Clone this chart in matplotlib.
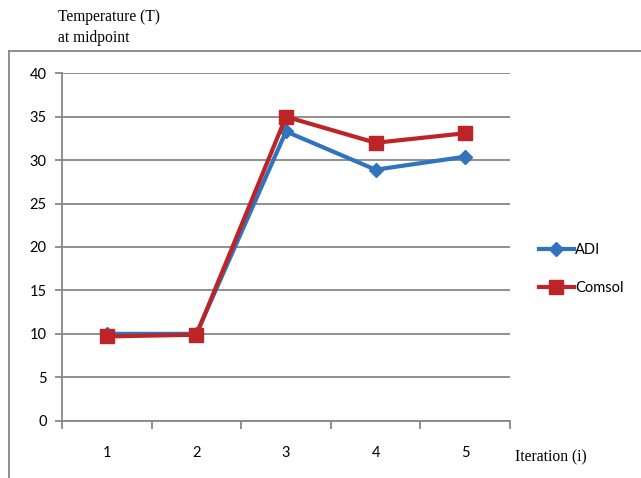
import matplotlib.pyplot as plt
from matplotlib.lines import Line2D

iterations = [1, 2, 3, 4, 5]
adi = [10.0, 10.0, 33.3, 28.9, 30.4]
comsol = [9.7, 9.9, 35.0, 32.0, 33.1]
yticks = [0, 5, 10, 15, 20, 25, 30, 35, 40]

fig = plt.figure(figsize=(6.41, 4.78), dpi=100)
ax = fig.add_axes([62 / 641, 1 - 420.7 / 478, 448 / 641, 347.4 / 478])

grid_c = "#878787"
ax.plot(iterations, adi, color="#2F74BD", lw=3, marker="D", ms=7, label="ADI", zorder=3)
ax.plot(iterations, comsol, color="#BD2427", lw=3, marker="s", ms=10, label="Comsol", zorder=3)

ax.set_xlim(0.5, 5.5)
ax.set_ylim(0, 40)
ax.set_yticks(yticks)
ax.set_xticks([0.5, 1.5, 2.5, 3.5, 4.5, 5.5])
ax.set_xticklabels([])
ax.set_xticks(iterations, minor=True)
ax.set_xticklabels([str(i) for i in iterations], minor=True)
ax.tick_params(axis="x", which="minor", length=0, pad=18)
ax.tick_params(axis="x", which="major", length=6, color=grid_c, width=1.3)
ax.tick_params(axis="y", length=5, color=grid_c, width=1.3, pad=6)
for lbl in ax.get_xticklabels(minor=True) + ax.get_yticklabels():
    lbl.set_fontfamily("Lato")
    lbl.set_fontsize(10.5)

ax.grid(axis="y", color=grid_c, lw=1.3)
ax.set_axisbelow(True)
for s in ["top", "right"]:
    ax.spines[s].set_visible(False)
for s in ["left", "bottom"]:
    ax.spines[s].set_color(grid_c)
    ax.spines[s].set_linewidth(1.3)

leg = ax.legend(loc="center left", bbox_to_anchor=(1.035, 0.437), frameon=False,
                handlelength=2.4, labelspacing=1.65, handletextpad=0.1,
                prop={"family": "Lato", "size": 10.5})

serif = dict(family="Liberation Serif", fontsize=11.2, va="center")
fig.text(58 / 641, 1 - 17 / 478, "Temperature (T)", **serif)
fig.text(58 / 641, 1 - 38 / 478, "at midpoint", **serif)
fig.text(515 / 641, 1 - 457 / 478, "Iteration (i)", **serif)

# outer chart frame
fig.add_artist(Line2D([9 / 641, 9 / 641], [0, 1 - 51 / 478], transform=fig.transFigure, color=grid_c, lw=1.3))
fig.add_artist(Line2D([9 / 641, 1], [1 - 51 / 478, 1 - 51 / 478], transform=fig.transFigure, color=grid_c, lw=1.3))

fig.savefig("out.png", dpi=100)
